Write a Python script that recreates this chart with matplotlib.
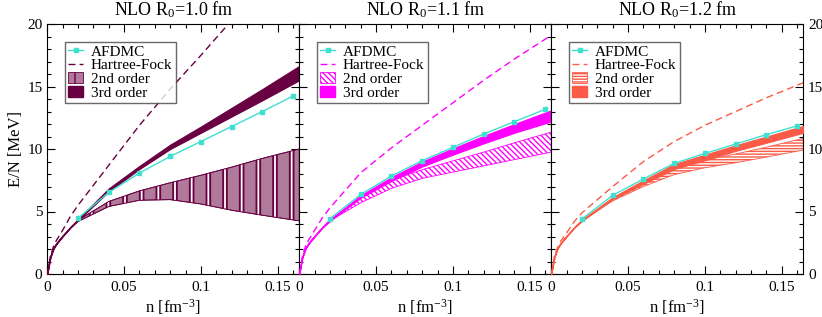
import numpy as np
import matplotlib
matplotlib.use("Agg")
import matplotlib.pyplot as plt
from matplotlib.patches import Patch
from matplotlib.lines import Line2D
from matplotlib.ticker import MultipleLocator

plt.rcParams['font.family'] = ['Liberation Serif', 'DejaVu Serif']
plt.rcParams['mathtext.fontset'] = 'custom'
plt.rcParams['mathtext.rm'] = 'Liberation Serif'
plt.rcParams['mathtext.it'] = 'Liberation Serif:italic'
plt.rcParams['hatch.linewidth'] = 1.0

# ==== data ====
titles = ["NLO R$_0$=1.0 fm", "NLO R$_0$=1.1 fm", "NLO R$_0$=1.2 fm"]

n_afdmc = [0.02, 0.04, 0.06, 0.08, 0.10, 0.12, 0.14, 0.16]
afdmc_10 = [4.46, 6.53, 8.08, 9.41, 10.6, 11.8, 13.0, 14.24]
afdmc_11 = [4.43, 6.37, 7.84, 9.07, 10.13, 11.2, 12.19, 13.17]
afdmc_12 = [4.4, 6.3, 7.6, 8.85, 9.65, 10.4, 11.15, 11.85]

n_grid = [0, 0.002, 0.004, 0.006, 0.01, 0.015, 0.02, 0.04, 0.06, 0.08, 0.10, 0.12, 0.14, 0.164]

hf_10 = [0, 1.4, 2.2, 2.7, 3.5, 4.6, 5.5, 8.7, 11.9, 14.8, 17.5, 20.3, 23.0, 26.0]
hf_11 = [0, 1.4, 2.2, 2.7, 3.5, 4.5, 5.3, 8.1, 10.1, 11.9, 13.7, 15.5, 17.2, 19.1]
hf_12 = [0, 1.4, 2.1, 2.6, 3.3, 4.2, 4.9, 7.0, 9.0, 10.6, 11.9, 13.0, 14.1, 15.3]

# 2nd order bands (lower, upper)
lo2_10 = [0, 1.3, 2.0, 2.4, 3.0, 3.65, 4.2, 5.4, 5.9, 5.95, 5.6, 5.1, 4.7, 4.25]
hi2_10 = [0, 1.3, 2.0, 2.4, 3.0, 3.7, 4.3, 5.8, 6.65, 7.3, 7.9, 8.55, 9.25, 10.0]
lo2_11 = [0, 1.3, 2.0, 2.4, 3.0, 3.65, 4.25, 5.7, 6.85, 7.65, 8.15, 8.65, 9.15, 9.75]
hi2_11 = [0, 1.3, 2.0, 2.4, 3.0, 3.7, 4.35, 6.15, 7.5, 8.35, 9.05, 9.75, 10.5, 11.35]
lo2_12 = [0, 1.3, 2.0, 2.4, 3.0, 3.65, 4.25, 5.85, 7.0, 7.95, 8.5, 8.9, 9.35, 9.92]
hi2_12 = [0, 1.3, 2.0, 2.4, 3.0, 3.7, 4.3, 6.0, 7.3, 8.45, 9.1, 9.6, 10.15, 10.85]

# 3rd order bands (lower, upper)
lo3_10 = [0, 1.3, 2.0, 2.4, 3.0, 3.7, 4.3, 6.6, 8.4, 10.0, 11.3, 12.6, 13.9, 15.5]
hi3_10 = [0, 1.35, 2.05, 2.45, 3.05, 3.75, 4.4, 6.85, 8.65, 10.35, 11.8, 13.3, 14.8, 16.65]
lo3_11 = [0, 1.3, 2.0, 2.4, 3.0, 3.7, 4.25, 6.1, 7.45, 8.6, 9.55, 10.45, 11.3, 12.2]
hi3_11 = [0, 1.35, 2.05, 2.45, 3.05, 3.75, 4.35, 6.3, 7.75, 9.0, 10.05, 11.05, 12.0, 13.1]
lo3_12 = [0, 1.3, 2.0, 2.4, 3.0, 3.7, 4.25, 6.0, 7.2, 8.4, 9.1, 9.85, 10.5, 11.3]
hi3_12 = [0, 1.35, 2.05, 2.45, 3.05, 3.75, 4.35, 6.15, 7.5, 8.8, 9.55, 10.3, 11.0, 11.85]

panels = [
    dict(afdmc=afdmc_10, hf=hf_10, lo2=lo2_10, hi2=hi2_10, lo3=lo3_10, hi3=hi3_10,
         color="#680042", face2="#b07a9b", hatch="|"),
    dict(afdmc=afdmc_11, hf=hf_11, lo2=lo2_11, hi2=hi2_11, lo3=lo3_11, hi3=hi3_11,
         color="#ff00ff", face2="white", hatch="\\\\\\\\\\\\"),
    dict(afdmc=afdmc_12, hf=hf_12, lo2=lo2_12, hi2=hi2_12, lo3=lo3_12, hi3=hi3_12,
         color="#fa5a46", face2="white", hatch="------"),
]

cyan = "#40e0d0"
serif = dict(family=['Liberation Serif', 'DejaVu Serif'], size=11)

fig = plt.figure(figsize=(8.22, 3.17), dpi=100)
left, width = 47.3 / 822, 252 / 822
bottom, height = 1 - 274 / 317, 250 / 317

for i, p in enumerate(panels):
    ax = fig.add_axes([left + i * width, bottom, width, height])
    c = p["color"]

    band2 = ax.fill_between(n_grid, p["lo2"], p["hi2"], facecolor=p["face2"],
                            edgecolor=c, hatch=p["hatch"], linewidth=0.6, zorder=2)
    if i == 0:
        # stripe groups: thick dark hatch with a thin white line on top
        band2.set_hatch_linewidth(4.0)
        white = ax.fill_between(n_grid, p["lo2"], p["hi2"], facecolor="none",
                                edgecolor="white", hatch="|", linewidth=0, zorder=2.1)
        white.set_hatch_linewidth(1.3)
        ax.plot(n_grid, p["lo2"], color=c, linewidth=0.6, zorder=2.2)
        ax.plot(n_grid, p["hi2"], color=c, linewidth=0.6, zorder=2.2)
    ax.fill_between(n_grid, p["lo3"], p["hi3"], facecolor=c,
                    edgecolor=c, linewidth=0.8, zorder=3)
    ax.plot(n_grid, p["hf"], color=c, linestyle=(0, (5, 3)), linewidth=1.0, zorder=3)
    ax.plot(n_afdmc, p["afdmc"], color=cyan, marker="s", markersize=3,
            linewidth=1.0, zorder=4)

    ax.set_xlim(0, 0.164)
    ax.set_ylim(0, 20)
    ax.xaxis.set_major_locator(MultipleLocator(0.05))
    ax.xaxis.set_minor_locator(MultipleLocator(0.01))
    ax.yaxis.set_major_locator(MultipleLocator(5))
    ax.yaxis.set_minor_locator(MultipleLocator(1))
    ax.tick_params(which="both", direction="in", top=True, right=True,
                   labelsize=11, width=0.8)
    ax.tick_params(which="major", length=6)
    ax.tick_params(which="minor", length=3)
    ax.set_xticks([0, 0.05, 0.1, 0.15])
    ax.set_xticklabels(["0", "0.05", "0.1", "0.15"])
    ax.tick_params(axis="x", pad=5)

    if i == 0:
        ax.set_ylabel("E/N [MeV]", fontsize=12, labelpad=2)
    elif i == 2:
        ax.tick_params(axis="y", labelleft=False, labelright=True)
    else:
        ax.tick_params(axis="y", labelleft=False)

    ax.set_xlabel("n [fm$^{-3}$]", fontsize=12, labelpad=2)
    ax.set_title(titles[i], fontsize=13, pad=6)

    h2 = Patch(facecolor=p["face2"], edgecolor=c, hatch=p["hatch"], linewidth=0.6)
    if i == 0:
        h2.set_hatch_linewidth(2.0)
    handles = [
        Line2D([], [], color=cyan, marker="s", markersize=3, linewidth=1.0),
        Line2D([], [], color=c, linestyle=(0, (5, 3)), linewidth=1.0),
        h2,
        Patch(facecolor=c, edgecolor=c),
    ]
    leg = ax.legend(handles, ["AFDMC", "Hartree-Fock", "2nd order", "3rd order"],
                    loc="upper left", bbox_to_anchor=(0.07, 0.928), prop=serif,
                    frameon=True, fancybox=False, handlelength=1.0,
                    handletextpad=0.5, borderpad=0.2, labelspacing=0.0,
                    borderaxespad=0, handleheight=0.7)
    leg.get_frame().set_edgecolor("#444444")
    leg.get_frame().set_linewidth(1.0)

plt.savefig("out.png", dpi=100)
